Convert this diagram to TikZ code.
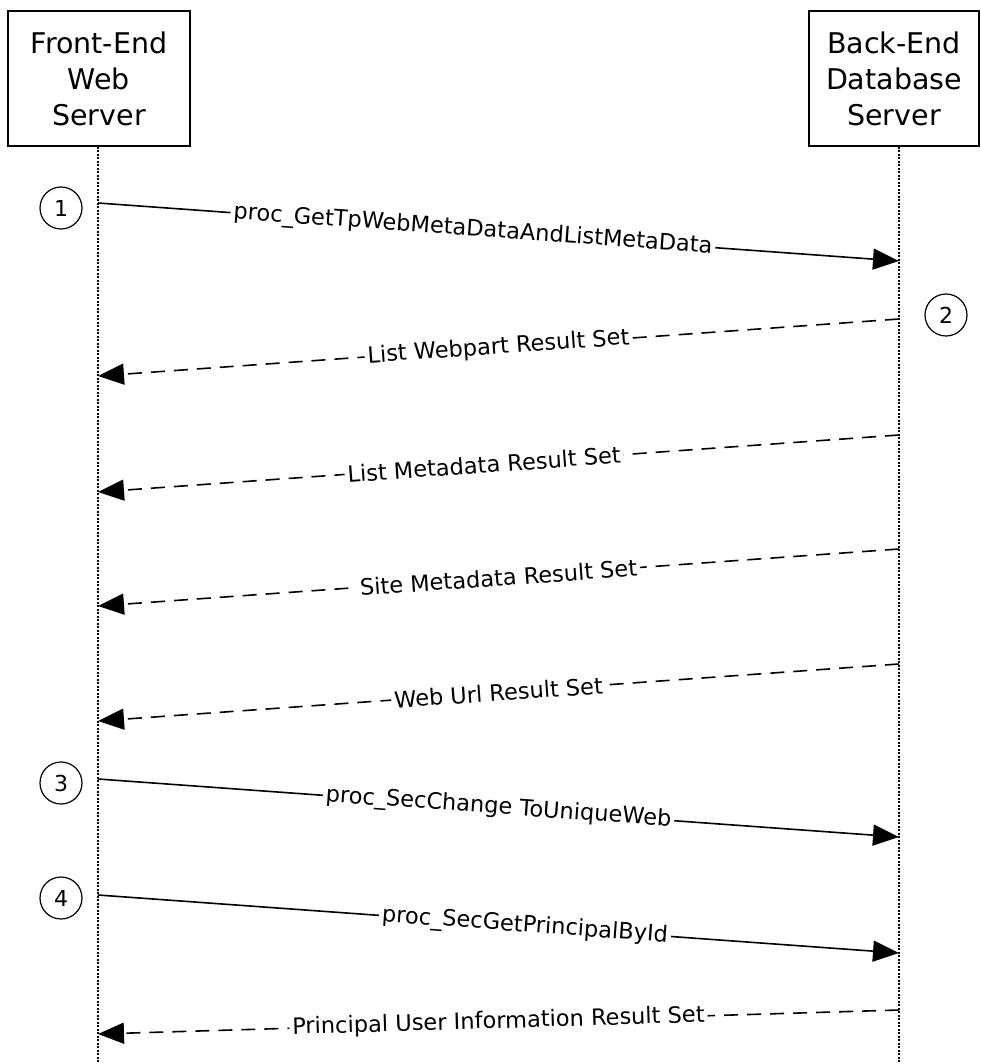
\documentclass[tikz,border=0pt]{standalone}
\usepackage{fontspec}
\setmainfont{DejaVu Sans}
\usetikzlibrary{arrows.meta}

\begin{document}
\begin{tikzpicture}[x=1pt,y=-1pt,>={Triangle[length=26pt,width=21pt]},
  actor/.style={draw,line width=1.3pt,minimum height=135pt,align=center,
    font=\fontsize{28.5}{36}\selectfont},
  lifeline/.style={line width=1.3pt,dash pattern=on 2pt off 1.5pt},
  msg/.style={line width=1.6pt,->},
  reply/.style={line width=1.6pt,->,dash pattern=on 14pt off 9pt},
  lbl/.style={sloped,fill=white,inner sep=3pt,font=\fontsize{22.5}{27}\selectfont},
  stepno/.style={circle,draw,line width=1.2pt,minimum size=42pt,inner sep=0pt,
    font=\fontsize{22}{26}\selectfont}]
  % Configurable parameters
  \def\xfe{98}
  \def\xbe{899}
  \def\ybot{1064}
  %
  \useasboundingbox (0,0) rectangle (980,\ybot);
  %
  % Actors
  \node[actor,minimum width=182pt] (fe) at (99,78.5) {Front-End\\Web\\Server};
  \node[actor,minimum width=170pt] (be) at (894,78.5) {Back-End\\Database\\Server};
  %
  % Lifelines
  \coordinate (fe-bot) at (\xfe,\ybot);
  \coordinate (be-bot) at (\xbe,\ybot);
  \draw[lifeline] (fe-bot |- fe.south) -- (fe-bot);
  \draw[lifeline] (be-bot |- be.south) -- (be-bot);
  %
  % Message end points
  \coordinate (fe1) at (\xfe,203);  \coordinate (be1) at (\xbe,261);
  \coordinate (be2) at (\xbe,319);  \coordinate (fe2) at (\xfe,376);
  \coordinate (be3) at (\xbe,435);  \coordinate (fe3) at (\xfe,492);
  \coordinate (be4) at (\xbe,549);  \coordinate (fe4) at (\xfe,606);
  \coordinate (be5) at (\xbe,664);  \coordinate (fe5) at (\xfe,721);
  \coordinate (fe6) at (\xfe,779);  \coordinate (be6) at (\xbe,837);
  \coordinate (fe7) at (\xfe,895);  \coordinate (be7) at (\xbe,953);
  \coordinate (be8) at (\xbe,1010); \coordinate (fe8) at (\xfe,1034);
  %
  % Messages
  \draw[msg] (fe1) -- node[lbl,pos=0.468] {proc\_GetTpWebMetaDataAndListMetaData} (be1);
  \draw[reply] (be2) -- node[lbl] {List Webpart Result Set} (fe2);
  \draw[reply] (be3) -- node[lbl,pos=0.518] {List Metadata Result Set} (fe3);
  \draw[reply] (be4) -- node[lbl] {Site Metadata Result Set} (fe4);
  \draw[reply] (be5) -- node[lbl] {Web Url Result Set} (fe5);
  \draw[msg] (fe6) -- node[lbl] {proc\_SecChange ToUniqueWeb} (be6);
  \draw[msg] (fe7) -- node[lbl,pos=0.533] {proc\_SecGetPrincipalById} (be7);
  \draw[reply] (be8) -- node[lbl] {Principal User Information Result Set} (fe8);
  %
  % Step numbers
  \node[stepno] (s1) at (61,208) {1};
  \node[stepno] (s2) at (946,315) {2};
  \node[stepno] (s3) at (61,783) {3};
  \node[stepno] (s4) at (61,898) {4};
  %
\end{tikzpicture}
\end{document}
